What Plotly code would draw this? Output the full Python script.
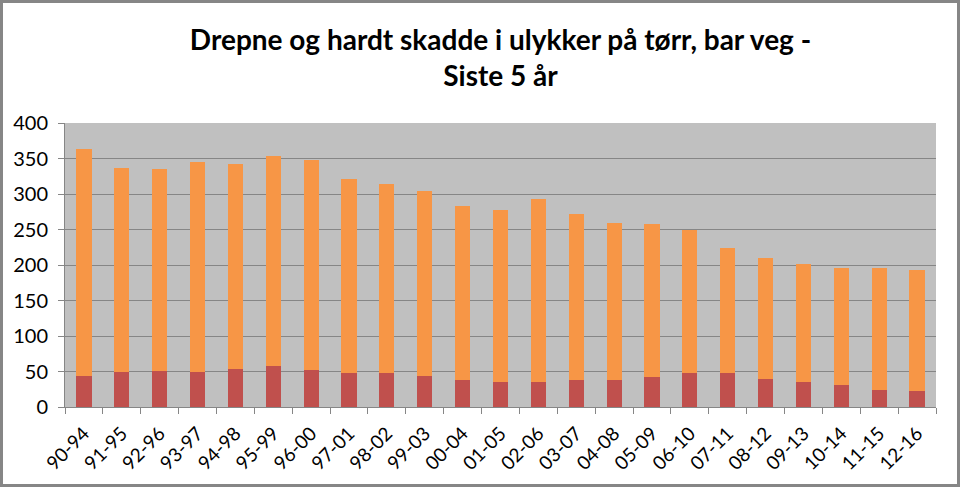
import plotly.graph_objects as go

categories = ["90-94", "91-95", "92-96", "93-97", "94-98", "95-99", "96-00", "97-01",
              "98-02", "99-03", "00-04", "01-05", "02-06", "03-07", "04-08", "05-09",
              "06-10", "07-11", "08-12", "09-13", "10-14", "11-15", "12-16"]
drepte = [44, 50, 51, 50, 53, 58, 52, 48, 48, 44, 38, 35, 35, 38, 38, 42, 48, 48, 39, 35, 31, 24, 22]
hardt_skadde = [320, 287, 284, 295, 289, 295, 296, 273, 266, 260, 245, 242, 258, 234, 221, 216,
                201, 176, 171, 166, 165, 172, 171]
y_ticks = [0, 50, 100, 150, 200, 250, 300, 350, 400]

W, H = 960, 487
ML, MR, MT, MB = 65, 24, 123, 80

fig = go.Figure()
fig.add_trace(go.Bar(x=categories, y=drepte, name="Drepte", marker_color="#C0504D",
                     marker_line_width=0))
fig.add_trace(go.Bar(x=categories, y=hardt_skadde, name="Hardt skadde", marker_color="#F79646",
                     marker_line_width=0))

pw = W - ML - MR
ph = H - MT - MB
fig.add_shape(type="rect", xref="paper", yref="paper",
              x0=-(ML - 1.5) / pw, x1=1 + (MR - 1.5) / pw,
              y0=-(MB - 1.5) / ph, y1=1 + (MT - 1.5) / ph,
              line=dict(color="#868686", width=3), layer="above")

fig.update_layout(
    width=W, height=H,
    margin=dict(l=ML, r=MR, t=MT, b=MB),
    barmode="stack",
    bargap=0.6,
    showlegend=False,
    paper_bgcolor="white",
    plot_bgcolor="#C0C0C0",
    font=dict(family="Lato, Open Sans, sans-serif", color="black"),
    title=dict(text="<b>Drepne og hardt skadde i ulykker på tørr, bar veg -<br>Siste 5 år</b>",
               x=0.5, xref="paper", xanchor="center",
               yref="container", y=1 - 50 / H, yanchor="middle",
               font=dict(size=28, family="Lato, sans-serif", color="black")),
    xaxis=dict(type="category", tickangle=-45, tickfont=dict(size=19), showgrid=False,
               ticks="outside", tickson="boundaries", ticklen=6, tickcolor="#868686",
               ticklabelstandoff=7,
               showline=True, linecolor="#868686", linewidth=1),
    yaxis=dict(range=[0, 400], tickvals=y_ticks, tickfont=dict(size=20),
               showgrid=True, gridcolor="#868686", gridwidth=1,
               ticks="outside", ticklen=6, tickcolor="#868686",
               ticklabelstandoff=6,
               showline=True, linecolor="#868686", linewidth=1, zeroline=False),
)

fig.write_html("out.html")
